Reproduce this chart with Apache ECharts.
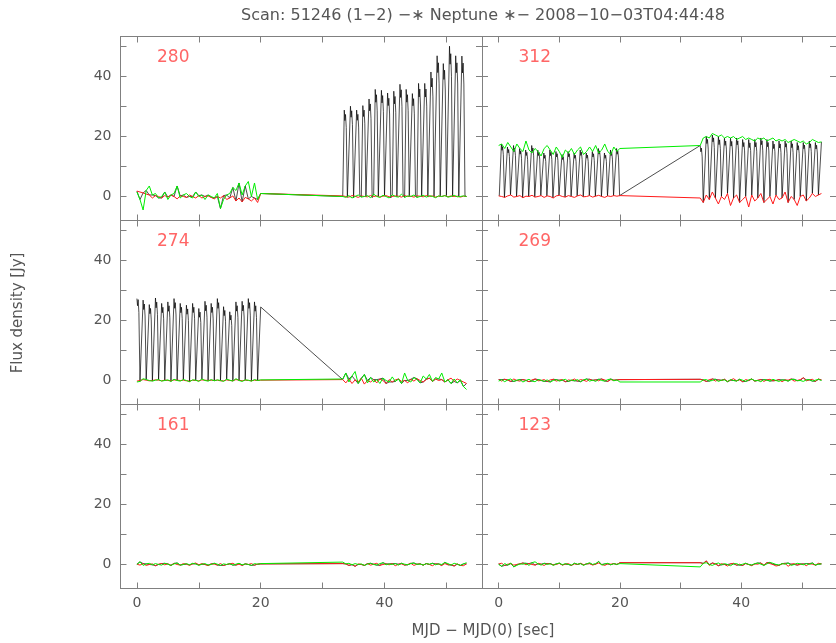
<!DOCTYPE html>
<html><head><meta charset="utf-8">
<script src="https://cdn.jsdelivr.net/npm/echarts@6/dist/echarts.min.js"></script>
<style>html,body{margin:0;padding:0;background:#fff}#c{width:836px;height:643px}</style>
</head><body><div id="c"></div>
<script>
// ---- sample times (sec) ----
const tA = [0,0.5,1,1.5,2,2.5,3,3.5,4,4.5,5,5.5,6,6.5,7,7.5,8,8.5,9,9.5,10,10.5,11,11.5,12,12.5,13,13.5,14,14.5,15,15.5,16,16.5,17,17.5,18,18.5,19,19.5,20];
const tB = [33.25,33.75,34.25,34.75,35.25,35.75,36.25,36.75,37.25,37.75,38.25,38.75,39.25,39.75,40.25,40.75,41.25,41.75,42.25,42.75,43.25,43.75,44.25,44.75,45.25,45.75,46.25,46.75,47.25,47.75,48.25,48.75,49.25,49.75,50.25,50.75,51.25,51.75,52.25,52.75,53.25];

// ---- panel 280 ----
const green280A = [1.5,-1,-4.5,2,3.5,0.5,1,-0.5,0,1.5,-1,0.5,1,3.5,-0.5,0.5,1,0,-0.5,1.5,0,0.5,-1,0.5,0,-0.5,1,-4,-1,0.5,1,3,2,4.5,0.5,3.5,5,0,4.5,-1,1];
const red280A = [1.8,1.5,1.2,0.8,0.5,-0.5,0.3,0,-0.5,0.3,-0.2,0.5,0,-0.8,0.2,0,-0.3,0.5,0,-0.5,0.3,-0.5,0,0.2,-0.3,-0.8,0,-0.5,0.3,-1,-0.5,0.2,-1.5,-0.5,-1.8,-0.3,-0.8,-1.5,-0.5,-2,1];
const green280B = [0,-0.3,0.3,-0.5,0,0.5,-0.2,0,0.3,-0.4,0.8,0,-0.3,0.4,0,-0.5,0.6,0,-0.2,0.8,-0.3,0.2,0,0.5,-0.3,0,0.4,-0.2,0.3,0,-0.4,0.2,0,0.3,-0.2,0,0.4,-0.1,0,0.2,0];
const red280B = [0.2,0,-0.2,0.3,0.1,-0.3,0.2,0,-0.1,0.3,0,0.2,-0.2,0.1,0.3,-0.1,0,0.2,0.1,-0.2,0.3,0,0.1,-0.2,0.2,0.1,-0.1,0.3,0,0.2,-0.2,0.1,0,0.3,-0.1,0.2,0,0.1,-0.2,0.1,0];
const peaks280B = [28.8,30.1,28.8,30.3,32.5,35.7,35.4,34.5,35.1,37.4,35.7,34.3,37.7,37.7,41.5,46.9,44.3,50.1,46.9,46.8];

// ---- panel 312 ----
const green312A = [17,17.5,16,18,16.5,15,17.5,16,15,18.5,15.5,14.5,16,15,13.5,16,17,15.5,14,16.5,15,13,15.5,14.5,16,14,15.5,16.5,14,15,16.5,15,17,14.5,15.5,17.5,15,14,16.5,15,16];
const red312A = [0.2,0,-0.3,0.2,0.5,-0.2,0,0.3,-0.4,0.1,0,0.4,-0.2,0,0.3,-0.3,0.2,0,-0.5,0.2,0.4,0,-0.2,0.3,0,-0.3,0.2,0.5,-0.1,0,0.3,-0.2,0.1,0.4,0,-0.3,0.2,0,0.3,0.1,0.3];
const peaks312A = [17.5,16.5,17,16,15.5,17,15.5,14.5,15.5,15,14,15,14.5,15.5,14.5,15,16,14.5,15.5,16];
const green312B = [17,19.5,20,19.5,21,20.5,20,20.5,19.5,20,19.5,20,19,19.5,20,19,19.5,19,18.5,19.5,19,19.5,18.5,19,19.5,18.5,19,18.5,19,18,18.5,19,18.5,18,18.5,17.5,18,19,18.5,18,18.2];
const red312B = [-0.5,-2,0.5,-1,1.5,-0.5,-2.5,0,-1,1,-3,-0.5,0.5,-2,-1,0,-3.5,0.5,-1.5,-0.5,1,-2,-1,0,-2.5,0.5,-1,-0.5,1.5,-2,0,-1,-3,0,0.5,-1.5,-0.5,1,0,0.5,1];
const peaks312B = [17,20,20.5,20,19.5,19.5,19.5,19,19,19,19.5,19,18.5,18.5,18.5,18.5,18,18,18.5,18,18.2];

// ---- panel 274 ----
const green274A = [-0.5,-0.3,0.6,0.3,0,-0.2,0.1,0.3,-0.2,0,0.2,-0.3,0.4,0,-0.2,0.3,0,-0.4,0.2,0.1,-0.3,0.5,0,-0.2,0.3,-0.1,0.2,0,-0.3,0.4,0.1,-0.2,0.6,0,-0.3,0.2,0.1,-0.2,0.3,0,0.2];
const red274A = [-0.2,0,0.3,0.1,-0.1,0,0.2,0.1,-0.1,0.1,0,-0.1,0.2,0.1,0,0.1,-0.1,-0.2,0.1,0,-0.1,0.2,0.1,0,0.1,0,0.1,-0.1,-0.1,0.2,0,-0.1,0.3,0.1,-0.1,0.1,0,-0.1,0.1,0,0.1];
const peaks274A = [28.4,26.8,25.3,27.5,25.7,26.2,27.3,25.7,25.1,25.7,24.0,26.4,25.7,27.3,24.6,22.9,26.2,26.4,27.3,26.2,25.5];
const green274B = [0.5,2.5,-0.5,1.5,3,-1,0.5,2,-0.8,1,-0.5,0.3,-1,0.8,0,-0.5,1.2,-0.3,0.5,-1,2.5,0,-0.5,1,0.3,-0.8,1.5,0.5,2,-0.3,1,0.5,2.5,-0.5,0.3,-1,0.5,-0.8,0.3,-2,-3];
const red274B = [0.3,-0.8,0.5,-1,0.2,-0.5,0.8,-1.2,0,-0.5,0.3,-0.8,0.5,0,-1,0.3,-0.5,0.2,0.5,-0.3,0,-0.8,0.4,-0.2,0.6,0,-0.5,0.3,0.8,-0.3,0.5,0,0.3,-0.5,0.2,0.8,-0.3,0.5,0,-0.5,-1];

// ---- panel 269 ----
const red269A = [0.3,-0.2,0.4,0.1,-0.3,0.5,0,-0.2,0.3,0.1,-0.4,0.2,0.5,-0.1,0,0.3,-0.3,0.2,0.4,-0.2,0.1,0.3,-0.4,0.2,0,0.5,-0.2,0.3,0.1,-0.3,0.4,0,0.2,-0.1,0.5,0.2,-0.3,0.3,0.1,0.2,0.3];
const green269A = [-0.2,0.3,-0.4,0.2,0.5,-0.3,0.1,0.3,-0.5,0,0.4,-0.2,-0.4,0.3,0.1,-0.3,0.2,-0.5,0,0.3,-0.2,0.1,0.4,-0.3,0.2,-0.1,0.3,-0.4,0.2,0.5,-0.2,0.1,-0.3,0.4,0,-0.2,0.3,0.5,-0.1,0.2,-0.5];
const red269B = [0.4,0.1,-0.3,0.3,0.5,-0.2,0.2,0,0.4,-0.3,0.1,0.6,-0.1,0.2,-0.4,0.3,0,0.5,-0.2,0.1,0.3,-0.3,0.2,0.4,-0.1,0,0.3,-0.4,0.2,0.1,0.5,-0.2,0,0.3,0.9,-0.1,0.2,0.4,-0.3,0.5,0.2];
const green269B = [-0.5,0.2,0.3,-0.2,0,0.4,-0.3,0.1,0.2,-0.4,0.3,0,-0.2,0.4,0.1,-0.3,0.2,0.5,-0.1,0,-0.4,0.3,0.1,-0.2,0.4,0,-0.3,0.2,0.1,-0.2,0.3,0.4,-0.1,0,-0.3,0.2,0.3,-0.2,0.1,0.4,0];

// ---- panel 161 ----
const red161A = [0.1,-0.2,0.3,-0.3,0,0.2,-0.4,0.1,0.3,-0.1,0.2,-0.3,0.4,0,-0.2,0.3,0.1,-0.3,0.2,0.5,-0.1,0.3,0,-0.4,0.2,0.1,-0.2,0.3,-0.3,0,0.2,0.4,-0.2,0.1,-0.3,0.2,0,0.3,-0.2,0.1,0.2];
const green161A = [0,0.9,-0.3,0.2,0.4,-0.1,0.3,0,-0.2,0.4,0.1,-0.3,0.2,0.5,-0.2,0,0.3,-0.1,0.4,0.2,-0.3,0.1,0.3,-0.2,0,0.4,0.1,-0.3,0.2,0,0.3,-0.2,0.1,0.4,-0.1,0.2,0,-0.3,0.3,0.1,0.3];
const red161B = [0.3,0.2,-0.3,0.1,-0.6,0.2,0,-0.3,0.3,-0.2,0.1,0.4,-0.3,0,0.2,-0.1,0.3,-0.4,0.1,0.2,-0.2,0,0.4,-0.3,0.1,0.2,-0.2,0.3,0,-0.4,0.2,0.1,-0.3,0.3,-0.1,0,-0.5,0.2,-0.3,-0.4,0.2];
const green161B = [0.8,0.2,0.4,-0.1,0.3,0,0.2,-0.3,0.1,0.4,0,-0.2,0.3,0.6,-0.1,0.2,0,0.3,-0.2,0.4,0.1,-0.1,0.3,0.5,0,0.2,-0.2,0.3,0.1,0.4,-0.1,0.2,0,0.7,0.3,-0.2,0.4,0.1,-0.3,0.2,0.6];

// ---- panel 123 ----
const red123A = [0.2,0.4,-0.3,0.1,0.3,-0.2,0,0.2,0.5,-0.1,0.3,0,-0.2,0.4,0.1,-0.3,0.3,0.2,-0.1,0,0.4,-0.2,0.1,0.3,-0.3,0.2,0,0.4,-0.1,0.2,0.3,-0.2,0.1,0.5,0,-0.3,0.2,0.1,0.3,0,0.6];
const green123A = [0,-0.6,0.3,-0.2,0.5,-0.8,-0.3,0.2,0.1,0.4,-0.3,0.6,0.9,0.2,-0.2,0.4,0,0.3,-0.3,0.2,0.5,-0.1,0.3,0,-0.2,0.4,0.1,0.3,-0.3,0.2,0.6,0,0.3,1,-0.2,0.2,0.4,-0.1,0.3,0,0.3];
const red123B = [0.6,0.3,1.2,-0.3,0.5,0.2,-0.4,0.3,0,-0.5,0.2,0.4,-0.2,0.1,-0.3,0.3,0,-0.4,0.2,0.1,0.5,-0.2,0.6,0.3,0,-0.5,-0.3,0.2,0.4,-0.6,0.1,0.3,-0.2,0,0.2,-0.4,0.3,0.1,-0.2,0.4,0.2];
const green123B = [-0.8,0.4,0.6,0,-0.3,0.2,0.5,-0.1,0.3,0,-0.4,0.2,0.3,-0.2,0.1,0.4,0,-0.2,0.3,0.5,0.1,-0.3,0.2,0.7,0.4,0,-0.2,0.3,0.1,0.5,-0.3,0,0.4,0.2,-0.1,0.3,0,0.5,-0.2,0.1,0.2];

// ---- axis ticks / labels ----
const xTicks = [0,10,20,30,40,50];
const xLabels = [0,20,40];
const yTicks = [0,10,20,30,40,50];
const yLabels = [0,20,40];
const panelNames = ['280','312','274','269','161','123'];

const TITLE = 'Scan: 51246 (1\u22122) \u2212\u2217 Neptune \u2217\u2212 2008\u221210\u221203T04:44:48';
const XNAME = 'MJD \u2212 MJD(0) [sec]';
const YNAME = 'Flux density [Jy]';

// black chopped-signal pulse template
const PULSE_DT = [-0.25, 0, 0.1, 0.2, 0.32, 0.5];
const PULSE_F  = [0, 1, 0.88, 0.95, 0.8, 0];

function nearestIdx(arr, t){ let b=0; for(let i=1;i<arr.length;i++){ if(Math.abs(arr[i]-t)<Math.abs(arr[b]-t)) b=i; } return b; }
function pairs(tArr, v){ return tArr.map((t,i)=>[t, v[i]]); }
function zigzag(tArr, r, g){ return tArr.map((t,i)=>[t, i%2 ? g[i] : r[i]]); }
function pulses(cfg, tArr, lowArr){
  const pts=[cfg.start];
  cfg.peaks.forEach((h,k)=>{
    const tp = cfg.tFirst + k;
    PULSE_DT.forEach((dt,j)=>{
      const t = tp + dt;
      if (t <= cfg.start[0] || t >= cfg.end[0]) return;
      const lo = lowArr[nearestIdx(tArr,t)];
      pts.push([t, lo + PULSE_F[j]*(h-lo)]);
    });
  });
  pts.push(cfg.end);
  return pts;
}

const panels = [
  { red: pairs(tA,red280A).concat(pairs(tB,red280B)),
    green: pairs(tA,green280A).concat(pairs(tB,green280B)),
    black: zigzag(tA,red280A,green280A).concat(pulses({peaks:peaks280B,tFirst:33.5,start:[33.25,0],end:[53.25,0]}, tB, green280B)) },
  { red: pairs(tA,red312A).concat(pairs(tB,red312B)),
    green: pairs(tA,green312A).concat(pairs(tB,green312B)),
    black: pulses({peaks:peaks312A,tFirst:0.45,start:[0.1,0.2],end:[20,0.3]}, tA, red312A)
           .concat(pulses({peaks:peaks312B,tFirst:33.25,start:[33.25,17],end:[53.25,18.2]}, tB, red312B)) },
  { red: pairs(tA,red274A).concat(pairs(tB,red274B)),
    green: pairs(tA,green274A).concat(pairs(tB,green274B)),
    black: pulses({peaks:peaks274A,tFirst:0,start:[0,27.3],end:[20,24.5]}, tA, green274A)
           .concat(zigzag(tB,red274B,green274B)) },
  { red: pairs(tA,red269A).concat(pairs(tB,red269B)),
    green: pairs(tA,green269A).concat(pairs(tB,green269B)),
    black: zigzag(tA,red269A,green269A).concat(zigzag(tB,red269B,green269B)) },
  { red: pairs(tA,red161A).concat(pairs(tB,red161B)),
    green: pairs(tA,green161A).concat(pairs(tB,green161B)),
    black: zigzag(tA,red161A,green161A).concat(zigzag(tB,red161B,green161B)) },
  { red: pairs(tA,red123A).concat(pairs(tB,red123B)),
    green: pairs(tA,green123A).concat(pairs(tB,green123B)),
    black: zigzag(tA,red123A,green123A).concat(zigzag(tB,red123B,green123B)) }
];

// ---- layout ----
const COL_LEFT = [120.5, 482];
const COL_W = 361.5;
const ROW_TOP = [36.5, 220.5, 404.5];
const ROW_H = 184;
const X_MIN = [-2.65, -2.75];
const X_SPAN = 58.4;
const Y_MIN = -8, Y_MAX = 53.33;
const AX = '#808080';
const TXT = '#555';
const FONT = 'DejaVu Sans';

const grids=[], xAxes=[], yAxes=[], series=[], graphics=[];
panels.forEach((p,i)=>{
  const row = Math.floor(i/2), col = i%2;
  grids.push({left:COL_LEFT[col], top:ROW_TOP[row], width:COL_W, height:ROW_H});
  const xmin = X_MIN[col], xmax = X_MIN[col]+X_SPAN;
  const line = {show:true,onZero:false,lineStyle:{color:AX,width:1}};
  const tick = (vals)=>({show:true,inside:true,length:6,customValues:vals,lineStyle:{color:AX,width:1}});
  xAxes.push({type:'value', gridIndex:i, position:'bottom', min:xmin, max:xmax, axisLine:line, splitLine:{show:false},
    axisTick:tick(xTicks),
    axisLabel:{show:row===2, customValues:xLabels, color:TXT, fontSize:14, fontFamily:FONT, margin:8}});
  xAxes.push({type:'value', gridIndex:i, position:'top', min:xmin, max:xmax, axisLine:line, splitLine:{show:false},
    axisTick:tick(xTicks), axisLabel:{show:false}});
  yAxes.push({type:'value', gridIndex:i, position:'left', min:Y_MIN, max:Y_MAX, axisLine:line, splitLine:{show:false},
    axisTick:tick(yTicks),
    axisLabel:{show:col===0, customValues:yLabels, color:TXT, fontSize:14, fontFamily:FONT, margin:9}});
  yAxes.push({type:'value', gridIndex:i, position:'right', min:Y_MIN, max:Y_MAX, axisLine:line, splitLine:{show:false},
    axisTick:tick(yTicks), axisLabel:{show:false}});
  const base = {type:'line', xAxisIndex:2*i, yAxisIndex:2*i, showSymbol:false, symbol:'none', animation:false, silent:true};
  series.push(Object.assign({}, base, {name:'black'+i, data:p.black, lineStyle:{color:'#000', width:0.7}}));
  series.push(Object.assign({}, base, {name:'red'+i, data:p.red, lineStyle:{color:'#ff1a1a', width:1}}));
  series.push(Object.assign({}, base, {name:'green'+i, data:p.green, lineStyle:{color:'#00ee00', width:1}}));
  graphics.push({type:'text', x:COL_LEFT[col]+36.5, y:ROW_TOP[row]+21,
    style:{text:panelNames[i], font:'17px "'+FONT+'"', fill:'#ff6666', textAlign:'left', textVerticalAlign:'middle'}});
});
graphics.push({type:'text', x:483, y:16, style:{text:TITLE, font:'16px "'+FONT+'"', fill:TXT, textAlign:'center', textVerticalAlign:'middle'}});
graphics.push({type:'text', x:483, y:631, style:{text:XNAME, font:'15px "'+FONT+'"', fill:TXT, textAlign:'center', textVerticalAlign:'middle'}});
graphics.push({type:'text', x:18, y:313, rotation:Math.PI/2, style:{text:YNAME, font:'15px "'+FONT+'"', fill:TXT, textAlign:'center', textVerticalAlign:'middle'}});

const chart = echarts.init(document.getElementById('c'), null, {renderer:'canvas', width:836, height:643});
chart.setOption({animation:false, backgroundColor:'#fff', grid:grids, xAxis:xAxes, yAxis:yAxes, series:series, graphic:graphics});
</script></body></html>
